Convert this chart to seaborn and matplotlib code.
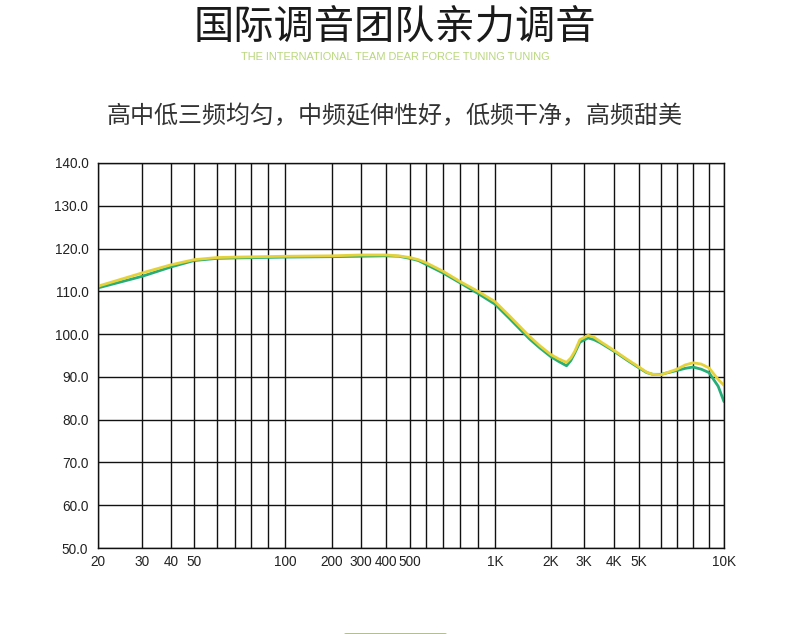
import numpy as np
import pandas as pd
import matplotlib
matplotlib.use('Agg')
import matplotlib.pyplot as plt
from matplotlib.ticker import FixedLocator, FixedFormatter, NullLocator
from matplotlib.lines import Line2D
import seaborn as sns

# ---- data ----
freq_hz = [20, 30, 40, 50, 60, 70, 100, 200, 300, 400, 450, 500, 550, 600,
           700, 800, 900, 1000, 1200, 1530, 1750, 2000, 2200, 2420, 2550,
           2680, 2850, 3120, 3300, 3500, 4000, 4500, 5000, 5330, 5600, 6000,
           7000, 7500, 8000, 8500, 9000, 9600, 10000]
spl_yellow = [111.2, 114.3, 116.2, 117.4, 117.9, 118.0, 118.2, 118.3, 118.5,
              118.5, 118.3, 117.9, 117.4, 116.7, 114.7, 112.3, 110.0, 107.6,
              104.2, 99.5, 97.2, 95.2, 94.2, 93.4, 94.4, 96.0, 98.7, 99.7,
              99.3, 98.3, 96.2, 94.1, 92.3, 91.1, 90.6, 90.5, 91.8, 92.8,
              93.3, 93.0, 92.1, 89.4, 88.0]
spl_green = [110.8, 113.5, 115.7, 117.2, 117.7, 117.8, 118.0, 118.1, 118.2,
             118.3, 118.2, 117.7, 117.2, 116.3, 114.3, 112.0, 109.5, 107.0,
             103.6, 98.9, 96.7, 94.7, 93.6, 92.6, 93.8, 95.6, 98.1, 99.1,
             98.7, 98.0, 96.0, 93.9, 92.1, 91.0, 90.6, 90.6, 91.5, 92.0,
             92.3, 91.8, 91.0, 87.8, 84.2]

grid_hz = [20, 30, 40, 50, 60, 70, 80, 90, 100, 200, 300, 400, 500, 600, 700,
           800, 900, 1000, 2000, 3000, 4000, 5000, 6000, 7000, 8000, 9000, 10000]
tick_hz = [20, 30, 40, 50, 100, 200, 300, 400, 500, 1000, 2000, 3000, 4000,
           5000, 10000]
tick_labels = ['20', '30', '40', '50', '100', '200', '300', '400', '500',
               '1K', '2K', '3K', '4K', '5K', '10K']
y_ticks = [50, 60, 70, 80, 90, 100, 110, 120, 130, 140]

# the source chart's frequency grid is hand-spaced, not a pure log axis;
# warp log10(f) so the grid lines land where they are drawn
warp_px = [98, 142, 171, 194, 217, 235, 251, 268, 285, 332, 361, 386, 410,
           426, 443, 460, 478, 495, 551, 584, 614, 639, 661, 677, 693, 709, 724]
lg = np.log10(grid_hz)
lg_ext = np.concatenate([[lg[0] - 3], lg, [lg[-1] + 3]])
px_ext = np.concatenate([[warp_px[0] - 3 * 230], warp_px, [warp_px[-1] + 3 * 230]])


def fwd(f):
    f = np.asarray(f, dtype=float)
    with np.errstate(divide='ignore', invalid='ignore'):
        lf = np.log10(np.clip(f, 1e-12, None))
    return np.interp(lf, lg_ext, px_ext)


def inv(p):
    p = np.asarray(p, dtype=float)
    return 10 ** np.interp(p, px_ext, lg_ext)


df = pd.DataFrame({
    'freq': freq_hz * 2,
    'spl': spl_green + spl_yellow,
    'curve': ['green'] * len(freq_hz) + ['yellow'] * len(freq_hz),
})

sns.set_theme(style='white')
plt.rcParams['font.family'] = ['Liberation Sans', 'Noto Sans CJK SC', 'DejaVu Sans']

fig = plt.figure(figsize=(7.9, 6.34), dpi=100)
ax = fig.add_axes([98 / 790, 86 / 634, 626 / 790, 385 / 634])

sns.lineplot(data=df, x='freq', y='spl', hue='curve', estimator=None,
             palette={'green': '#27ad78', 'yellow': '#e5d23a'},
             linewidth=2.0, legend=False, ax=ax, sort=False)
for ln in ax.lines:
    ln.set_solid_joinstyle('round')

ax.set_xscale('function', functions=(fwd, inv))
ax.set_xlim(20, 10000)
ax.set_ylim(50, 140)

ax.xaxis.set_major_locator(FixedLocator(tick_hz))
ax.xaxis.set_major_formatter(FixedFormatter(tick_labels))
ax.xaxis.set_minor_locator(NullLocator())
ax.set_yticks(y_ticks)
ax.set_yticklabels([f'{v:.1f}' for v in y_ticks])

for f in grid_hz:
    ax.axvline(f, color='#111111', lw=1.0, zorder=0)
for v in y_ticks:
    ax.axhline(v, color='#111111', lw=1.0, zorder=0)

for s in ax.spines.values():
    s.set_visible(True)
    s.set_color('#111111')
    s.set_linewidth(1.0)

ax.tick_params(axis='both', length=0, labelsize=9.8, colors='#222222')
ax.tick_params(axis='x', pad=5)
ax.tick_params(axis='y', pad=7)
ax.set_xlabel('')
ax.set_ylabel('')

cjk = ['Noto Sans CJK SC', 'DejaVu Sans']
fig.text(0.5, 0.955, '国际调音团队亲力调音', ha='center', va='center',
         fontsize=29, color='#1a1a1a', family=cjk, fontweight=300)
fig.text(0.5, 0.910, 'THE INTERNATIONAL TEAM DEAR FORCE TUNING TUNING',
         ha='center', va='center', fontsize=7.9, color='#b9d77c',
         family=['Liberation Sans', 'DejaVu Sans'])
fig.text(0.5, 0.817, '高中低三频均匀，中频延伸性好，低频干净，高频甜美',
         ha='center', va='center', fontsize=17.3, color='#333333', family=cjk,
         fontweight=300)

fig.add_artist(Line2D([345 / 790, 445 / 790], [0.5 / 634, 0.5 / 634],
                      color='#a8c83c', lw=2.0, transform=fig.transFigure))

fig.savefig('out.png', dpi=100)
plt.close(fig)
